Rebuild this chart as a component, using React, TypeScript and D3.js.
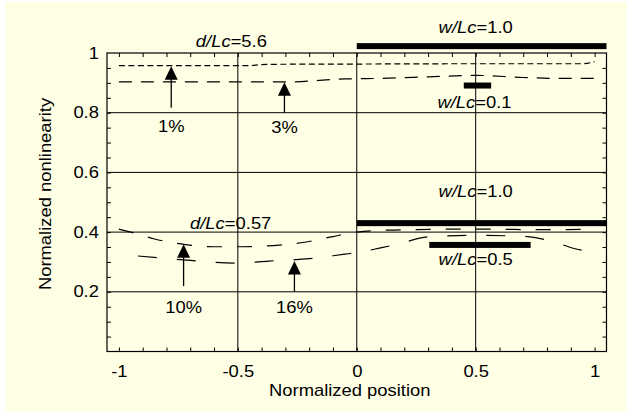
import { useEffect, useRef } from "react";
import * as d3 from "d3";

const W = 627;
const H = 412;
const BG = "#FFFFE5";
const FONT = "'Liberation Sans', Arial, Helvetica, sans-serif";
const STRETCH = 1.15; // glyphs in the original are a bit wider than Arial

// axis ticks
const xTickLabels = [-1, -0.5, 0, 0.5, 1];
const yTickLabels = [0.2, 0.4, 0.6, 0.8, 1];
const xMinor = d3.range(-10, 11).map(i => i / 10);
const yMinor = d3.range(1, 20).map(i => i / 20);
const xGrid = [-0.5, 0, 0.5];
const yGrid = [0.2, 0.4, 0.6, 0.8];

// curves: [normalized position, normalized nonlinearity]
const curve1 = [[-1, 0.958], [-0.45, 0.958], [-0.38, 0.962], [0, 0.963], [0.5, 0.964], [0.95, 0.964], [1.0, 0.971]];
const curve3 = [[-1, 0.903], [-0.3, 0.903], [-0.05, 0.913], [0.1, 0.915], [0.3, 0.92], [0.5, 0.925], [0.7, 0.918], [0.85, 0.915], [1.0, 0.915]];
const curve10 = [[-1, 0.41], [-0.95, 0.4], [-0.85, 0.377], [-0.72, 0.358], [-0.6, 0.351], [-0.48, 0.351], [-0.35, 0.355], [-0.22, 0.366], [-0.1, 0.385], [0, 0.4], [0.2, 0.408], [0.5, 0.41], [0.8, 0.408], [1.0, 0.41]];
const curve16 = [[-0.92, 0.32], [-0.83, 0.314], [-0.7, 0.305], [-0.5, 0.296], [-0.37, 0.303], [-0.2, 0.311], [-0.05, 0.326], [0, 0.331], [0.1, 0.347], [0.17, 0.359], [0.3, 0.384], [0.5, 0.389], [0.7, 0.386], [0.83, 0.367], [0.91, 0.346], [1.0, 0.333]];
const curves = [curve1, curve3, curve10, curve16];
const curveDash = ["6 3.5", "13 9", "15 15", "19 20"];

// arrows pointing at each curve
const arrowLabels = ["1%", "3%", "10%", "16%"];
const arrowX = [-0.78, -0.304, -0.728, -0.262];
const arrowTip = [0.956, 0.902, 0.359, 0.303];
const arrowTail = [0.817, 0.8, 0.219, 0.2];
const arrowLabelY = [0.735, 0.732, 0.129, 0.129];

// electrode width bars
const barLabels = ["1.0", "0.1", "1.0", "0.5"];
const barStart = [0, 0.45, 0, 0.305];
const barEnd = [1.05, 0.565, 1.05, 0.731];
const barLevel = [1.023, 0.891, 0.43, 0.357];
const barLabelX = [0.5, 0.495, 0.5, 0.5];
const barLabelY = [1.067, 0.816, 0.518, 0.29];

// depth annotations
const depthLabels = ["5.6", "0.57"];
const depthLabelX = [-0.527, -0.53];
const depthLabelY = [1.021, 0.41];

function buildChart(svgEl: SVGSVGElement) {
  const margin = { top: 53, right: 20.5, bottom: 60.5, left: 107 };
  const innerW = W - margin.left - margin.right;
  const innerH = H - margin.top - margin.bottom;

  const svg = d3.select(svgEl);
  svg.selectAll("*").remove();

  svg.append("rect").attr("width", W).attr("height", H).attr("fill", "#fff");
  svg.append("rect").attr("x", 5).attr("y", 2).attr("width", W - 5).attr("height", H - 2).attr("fill", BG);

  const g = svg.append("g").attr("transform", `translate(${margin.left},${margin.top})`);

  const x = d3.scaleLinear().domain([-1.05, 1.05]).range([0, innerW]);
  const y = d3.scaleLinear().domain([0, 1]).range([innerH, 0]);

  // grid
  g.append("g")
    .selectAll("line.gx")
    .data(xGrid)
    .enter()
    .append("line")
    .attr("x1", d => x(d)).attr("x2", d => x(d))
    .attr("y1", 0).attr("y2", innerH)
    .attr("stroke", "#000").attr("stroke-width", 1);
  g.append("g")
    .selectAll("line.gy")
    .data(yGrid)
    .enter()
    .append("line")
    .attr("x1", 0).attr("x2", innerW)
    .attr("y1", d => y(d)).attr("y2", d => y(d))
    .attr("stroke", "#000").attr("stroke-width", 1);

  // inner minor ticks on all four sides
  const tickStyle = ax => {
    ax.select(".domain").remove();
    ax.selectAll("line").attr("stroke", "#000").attr("stroke-width", 1);
  };
  g.append("g").attr("transform", `translate(0,${innerH})`)
    .call(d3.axisBottom(x).tickValues(xMinor).tickSize(-4).tickFormat(() => ""))
    .call(tickStyle);
  g.append("g")
    .call(d3.axisTop(x).tickValues(xMinor).tickSize(-4).tickFormat(() => ""))
    .call(tickStyle);
  g.append("g")
    .call(d3.axisLeft(y).tickValues(yMinor).tickSize(-4).tickFormat(() => ""))
    .call(tickStyle);
  g.append("g").attr("transform", `translate(${innerW},0)`)
    .call(d3.axisRight(y).tickValues(yMinor).tickSize(-4).tickFormat(() => ""))
    .call(tickStyle);

  // tick labels
  const labelStyle = ax => {
    ax.select(".domain").remove();
    ax.selectAll("line").remove();
    ax.selectAll("text")
      .attr("fill", "#000")
      .style("font-size", "16px")
      .style("font-family", FONT)
      .attr("transform", `scale(${STRETCH},1)`);
  };
  g.append("g").attr("transform", `translate(0,${innerH})`)
    .call(d3.axisBottom(x).tickValues(xTickLabels).tickSize(0).tickPadding(14).tickFormat(d => String(d)))
    .call(labelStyle);
  g.append("g")
    .call(d3.axisLeft(y).tickValues(yTickLabels).tickSize(0).tickPadding(7).tickFormat(d => String(d)))
    .call(labelStyle);

  // frame
  g.append("rect")
    .attr("width", innerW).attr("height", innerH)
    .attr("fill", "none").attr("stroke", "#000").attr("stroke-width", 1.2);

  // curves
  const line = d3.line()
    .x(d => x(d[0]))
    .y(d => y(d[1]))
    .curve(d3.curveMonotoneX);
  curves.forEach((pts, i) => {
    g.append("path")
      .attr("d", line(pts))
      .attr("fill", "none")
      .attr("stroke", "#000")
      .attr("stroke-width", 1.2)
      .attr("stroke-dasharray", curveDash[i]);
  });

  // width bars
  barLevel.forEach((lv, i) => {
    g.append("rect")
      .attr("x", x(barStart[i]))
      .attr("y", y(lv) - 3)
      .attr("width", x(barEnd[i]) - x(barStart[i]))
      .attr("height", 6)
      .attr("fill", "#000");
  });

  const addLabel = (px, py, italic, rest) => {
    const t = g.append("text")
      .attr("transform", `translate(${px},${py}) scale(${STRETCH},1)`)
      .attr("text-anchor", "middle")
      .attr("fill", "#000")
      .style("font-size", "16px")
      .style("font-family", FONT);
    if (italic) t.append("tspan").style("font-style", "italic").text(italic);
    t.append("tspan").text(rest);
  };

  barLabels.forEach((lab, i) => addLabel(x(barLabelX[i]), y(barLabelY[i]), "w/Lc", "=" + lab));
  depthLabels.forEach((lab, i) => addLabel(x(depthLabelX[i]), y(depthLabelY[i]), "d/Lc", "=" + lab));

  // arrows
  arrowX.forEach((ax, i) => {
    const px = x(ax);
    const tip = y(arrowTip[i]);
    const tail = y(arrowTail[i]);
    g.append("line")
      .attr("x1", px).attr("x2", px)
      .attr("y1", tip + 10).attr("y2", tail)
      .attr("stroke", "#000").attr("stroke-width", 1.3);
    g.append("path")
      .attr("d", `M${px},${tip} L${px - 6.5},${tip + 13.5} L${px + 6.5},${tip + 13.5} Z`)
      .attr("fill", "#000");
    addLabel(px, y(arrowLabelY[i]), null, arrowLabels[i]);
  });

  // axis titles
  svg.append("text")
    .attr("transform", `translate(${margin.left + x(0) - 7},396) scale(${STRETCH},1)`)
    .attr("text-anchor", "middle")
    .style("font-size", "16px")
    .style("font-family", FONT)
    .text("Normalized position");
  svg.append("text")
    .attr("transform", `translate(51,194) rotate(-90) scale(${STRETCH},1)`)
    .attr("text-anchor", "middle")
    .style("font-size", "16px")
    .style("font-family", FONT)
    .text("Normalized nonlinearity");
}

export default function App() {
  const svgRef = useRef(null);

  useEffect(() => {
    if (svgRef.current) buildChart(svgRef.current);
  }, []);

  return (
    <svg
      ref={svgRef}
      width={W}
      height={H}
      style={{ position: "absolute", left: 0, top: 0, display: "block" }}
    />
  );
}
